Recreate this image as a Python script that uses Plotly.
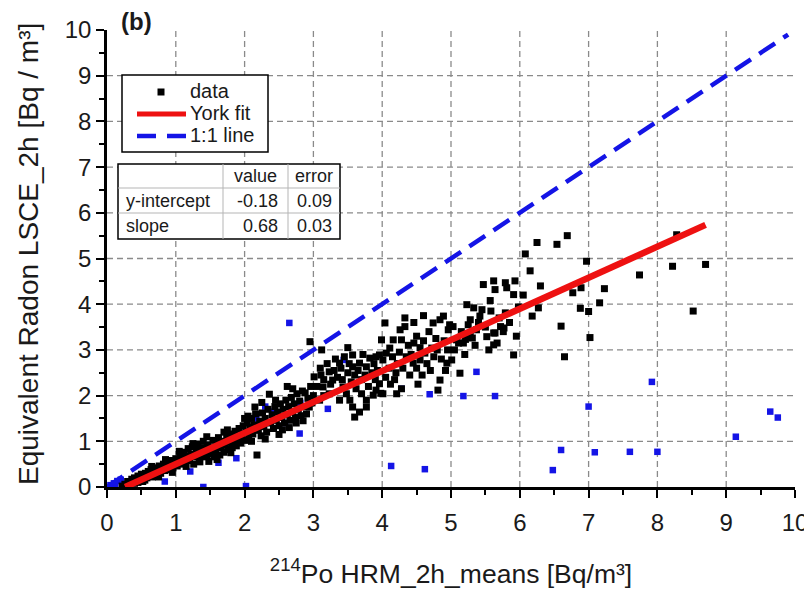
import plotly.graph_objects as go

# ---- data ----
DATA_X = [0.22,0.26,0.3,0.3,0.34,0.36,0.4,0.4,0.43,0.45,0.48,0.5,0.52,0.53,0.56,0.58,0.6,0.62,0.64,0.66,0.68,0.7,0.72,0.74,0.76,0.78,0.8,0.82,0.84,0.86,0.88,0.9,0.92,0.94,0.96,0.98,1.0,
          1.02,1.04,1.06,1.08,1.1,1.12,1.14,1.16,1.18,1.2,1.22,1.24,1.26,1.28,1.3,1.32,1.34,1.36,1.38,1.4,1.42,1.44,1.46,1.48,1.5,1.52,1.54,1.56,1.58,1.6,1.62,1.64,1.66,1.68,1.7,1.72,1.74,1.76,1.78,1.8,1.82,1.84,1.86,1.88,1.9,1.92,1.94,1.96,1.98,2.0,1.45,1.75,2.0,2.05,
          0.45,0.55,0.65,0.75,0.85,0.95,1.05,1.15,1.25,1.35,1.45,1.55,1.65,1.7,1.85,1.95,1.6,1.8,2.1,2.3,2.5,2.15,2.25,2.45,2.55,2.65,2.75,2.85,2.62,2.7,
          2.02,2.04,2.06,2.08,2.1,2.12,2.14,2.16,2.18,2.2,2.22,2.24,2.26,2.28,2.3,2.32,2.34,2.36,2.38,2.4,2.42,2.44,2.46,2.48,2.5,2.52,2.54,2.56,2.58,2.6,2.62,2.64,2.66,2.68,2.7,2.72,2.74,2.76,2.78,2.8,2.82,2.84,2.86,2.88,2.9,2.92,2.94,2.95,2.96,2.98,3.0,
          3.01,3.11,3.23,3.38,3.45,3.57,3.57,3.67,3.77,3.82,3.91,3.96,3.99,3.28,3.43,3.48,3.53,3.57,3.6,3.67,3.77,3.77,3.87,3.91,3.96,3.7,3.38,3.23,3.14,3.09,
          3.05,3.1,3.15,3.2,3.25,3.3,3.32,3.35,3.4,3.42,3.5,3.52,3.55,3.6,3.62,3.65,3.7,3.72,3.75,3.8,3.85,3.88,3.9,3.93,3.98,3.12,3.5,3.15,
          4.01,4.06,4.11,4.16,4.28,4.33,4.33,4.26,4.04,4.01,4.21,4.4,4.45,4.55,4.62,4.72,4.74,4.84,4.89,4.96,4.81,4.84,4.94,
          4.05,4.1,4.12,4.15,4.2,4.22,4.25,4.3,4.35,4.38,4.42,4.46,4.5,4.5,4.55,4.58,4.6,4.65,4.68,4.7,4.75,4.78,4.8,4.86,4.9,4.92,4.95,4.98,4.46,4.6,4.18,4.28,4.52,
          5.03,5.13,5.01,5.08,5.18,5.23,5.33,5.42,5.45,5.28,5.37,5.52,5.62,5.67,5.72,5.76,5.62,5.91,5.47,5.62,5.64,5.79,5.81,5.93,5.91,5.57,5.28,5.79,5.77,5.64,5.21,5.11,5.98,5.31,
          5.05,5.15,5.2,5.25,5.35,5.4,5.5,5.55,5.58,5.7,5.85,5.95,
          6.08,6.25,6.15,6.18,6.27,6.54,6.69,6.97,6.89,6.77,7.23,7.16,6.88,7.0,6.6,7.02,6.65,7.74,8.28,8.22,8.7,8.52,6.3,6.05]
DATA_Y = [0.02,0.06,0.04,0.12,0.1,0.17,0.08,0.2,0.15,0.24,0.18,0.28,0.12,0.22,0.3,0.2,0.34,0.26,0.38,0.22,0.32,0.42,0.28,0.36,0.46,0.3,0.4,0.5,0.36,0.44,0.54,0.38,0.48,0.58,0.42,0.52,0.62,
          0.46,0.56,0.7,0.5,0.62,0.76,0.54,0.68,0.84,0.58,0.72,0.88,0.5,0.66,0.8,0.94,0.6,0.74,0.86,1.0,0.66,0.8,0.92,0.56,0.72,0.86,1.02,0.66,0.8,0.94,1.08,0.7,0.86,1.0,0.76,0.92,1.12,0.82,0.98,1.16,0.86,1.04,1.22,0.9,1.1,1.28,0.96,1.16,1.34,1.02,1.1,1.25,1.5,1.55,
          0.1,0.15,0.45,0.22,0.6,0.32,0.78,0.45,0.95,0.55,0.7,0.78,0.98,1.2,0.95,1.05,0.6,0.75,1.0,1.05,1.15,1.75,1.85,1.9,1.25,1.3,1.4,1.45,2.2,2.15,
          1.2,1.4,1.08,1.3,1.5,1.16,1.36,1.6,0.7,1.24,1.44,1.12,1.62,1.32,1.5,1.2,1.7,2.03,1.4,1.58,1.28,1.76,1.46,1.64,1.34,1.82,1.52,1.7,1.4,1.9,1.58,1.76,1.46,1.96,1.64,1.82,1.52,2.04,1.7,1.88,1.56,2.1,1.76,2.06,1.6,1.94,1.75,3.18,2.2,1.84,2.0,
          2.41,2.45,2.52,2.71,2.85,2.89,2.63,2.71,2.63,2.82,2.85,2.89,3.22,2.34,2.19,2.04,1.9,1.75,1.53,1.64,1.75,1.9,2.01,2.12,2.26,2.04,1.9,2.04,2.19,1.9,
          2.2,2.6,2.35,2.7,2.25,2.55,2.8,2.4,2.6,2.35,2.5,2.7,2.3,2.45,2.15,2.55,2.35,2.9,2.45,2.2,2.5,2.7,2.35,2.55,2.05,3.0,3.05,2.0,
          2.78,2.93,3.04,3.22,3.22,3.51,3.7,3.44,3.59,2.04,2.04,2.45,2.71,2.78,2.93,3.04,3.59,3.66,3.74,3.44,2.12,2.34,2.71,
          2.4,2.6,2.25,2.85,2.5,2.7,2.95,2.6,2.85,3.1,2.9,3.15,2.6,3.3,3.05,2.45,3.2,2.7,3.4,2.55,2.85,3.25,3.0,2.8,3.2,2.55,3.0,3.55,3.6,3.75,2.35,2.15,2.25,
          3.51,2.49,2.78,3.22,3.15,3.99,3.92,3.74,3.88,3.29,3.44,3.29,3.37,3.15,3.51,3.4,3.11,2.89,4.43,4.51,4.32,4.47,4.36,4.51,4.21,4.08,3.66,3.81,3.48,3.37,3.23,3.15,3.94,3.26,
          3.0,3.4,2.9,3.55,3.1,3.6,3.5,3.0,3.85,3.7,3.6,3.3,
          5.1,5.35,4.73,3.74,3.92,5.31,5.5,4.94,4.36,4.25,4.34,4.03,3.91,3.84,3.52,3.27,2.85,4.64,5.52,4.83,4.87,3.85,4.4,4.2]

OUTLIER_X = [0.05,0.1,0.15,0.2,0.12,0.84,1.21,1.4,1.62,1.88,2.02,2.3,2.42,2.17,2.59,2.8,2.81,2.65,3.21,3.44,
             4.28,4.69,5.18,5.37,5.64,4.13,4.62,6.48,6.6,7.0,7.09,7.6,8.0,7.92,9.14,9.64,9.75]
OUTLIER_Y = [0.04,0.08,0.13,0.16,0.02,0.12,0.34,0.0,0.53,0.63,0.02,1.76,1.65,1.5,1.4,1.17,1.84,3.59,1.71,2.78,
             2.15,2.03,1.99,2.52,1.99,0.46,0.39,0.37,0.81,1.76,0.76,0.77,0.77,2.3,1.1,1.65,1.52]

FIT_INTERCEPT = -0.18
FIT_SLOPE = 0.68
FIT_X = [0.265, 8.7]
ONE_X = [0.0, 9.9]

LEGEND_LABELS = ["data", "York fit", "1:1 line"]
TABLE_HEADER = ["", "value", "error"]
TABLE_ROWS = [["y-intercept", "-0.18", "0.09"],
              ["slope", "0.68", "0.03"]]

X_TITLE = "<sup>214</sup>Po HRM_2h_means [Bq/m³]"
Y_TITLE = "Equivalent Radon LSCE_2h [Bq / m³]"
PANEL = "(b)"

TICKS = [0, 1, 2, 3, 4, 5, 6, 7, 8, 9, 10]
GRID = [1, 2, 3, 4, 5, 6, 7, 8, 9]

FONT = "Liberation Sans, Arial, sans-serif"
TXT = "#1a1a1a"
BLUE = "#1414e6"
RED = "#ee1111"

# The page body has an 8px margin, so the figure is drawn 8px right/down.
OFF = 8
W, H = 812, 591
ML, MT = 99, 22
PW, PH = 688, 457
MR, MB = W - ML - PW, H - MT - PH


def px_x(px):
    return (px - OFF - ML) / PW


def px_y(py):
    return (MT + PH + OFF - py) / PH


fig = go.Figure()

# dashed grid (no line at the upper/right range ends)
for g in GRID:
    fig.add_shape(type="line", xref="x", yref="y", x0=g, x1=g, y0=0, y1=10, layer="below",
                  line=dict(color="#8a8a8a", width=1.3, dash="6px,4px"))
    fig.add_shape(type="line", xref="x", yref="y", x0=0, x1=10, y0=g, y1=g, layer="below",
                  line=dict(color="#8a8a8a", width=1.3, dash="6px,4px"))

fig.add_trace(go.Scatter(x=OUTLIER_X, y=OUTLIER_Y, mode="markers", showlegend=False,
                         marker=dict(symbol="square", size=6.5, color=BLUE, line=dict(width=0))))
fig.add_trace(go.Scatter(x=DATA_X, y=DATA_Y, mode="markers", name=LEGEND_LABELS[0], showlegend=False,
                         marker=dict(symbol="square", size=7, color="black", line=dict(width=0))))
fig.add_trace(go.Scatter(x=FIT_X, y=[FIT_INTERCEPT + FIT_SLOPE * v for v in FIT_X], mode="lines",
                         name=LEGEND_LABELS[1], showlegend=False, line=dict(color=RED, width=6.5)))
fig.add_trace(go.Scatter(x=ONE_X, y=ONE_X, mode="lines", name=LEGEND_LABELS[2], showlegend=False,
                         line=dict(color=BLUE, width=4.5, dash="19px,10px")))

axis_common = dict(
    range=[0, 10], tickvals=TICKS, showline=True, linecolor="black", linewidth=2.5,
    ticks="outside", ticklen=8, tickwidth=2, tickcolor="black",
    tickfont=dict(family=FONT, size=24, color=TXT),
    showgrid=False, zeroline=False, mirror=False, automargin=False,
    minor=dict(ticks="outside", ticklen=5, tickwidth=2, tickcolor="black", dtick=0.5, showgrid=False),
)

fig.update_layout(
    width=W, height=H,
    margin=dict(l=ML, r=MR, t=MT, b=MB),
    paper_bgcolor="white", plot_bgcolor="white",
    font=dict(family=FONT, color=TXT),
    xaxis=dict(**axis_common, ticklabelstandoff=4,
               title=dict(text=X_TITLE, font=dict(family=FONT, size=26.5, color=TXT), standoff=30)),
    yaxis=dict(**axis_common, ticklabelstandoff=0),
    showlegend=False,
)

# y-axis title (placed as rotated text, to sit close to the left edge like the reference)
fig.add_annotation(text=Y_TITLE, xref="paper", yref="paper", x=px_x(28), y=px_y(254),
                   xanchor="center", yanchor="middle", textangle=-90, showarrow=False,
                   font=dict(family=FONT, size=28, color=TXT))

# "(b)" panel label
fig.add_annotation(text="<b>" + PANEL + "</b>", xref="paper", yref="paper", x=px_x(119), y=px_y(21),
                   xanchor="left", yanchor="middle", showarrow=False,
                   font=dict(family=FONT, size=24, color=TXT))

# ---- legend box (drawn) ----
fig.add_shape(type="rect", xref="paper", yref="paper", x0=px_x(122), x1=px_x(268), y0=px_y(152), y1=px_y(75),
              fillcolor="white", line=dict(color="black", width=1.5), layer="above")
leg_y = [92, 114, 136]
fig.add_shape(type="rect", xref="paper", yref="paper", x0=px_x(157.5), x1=px_x(164.5),
              y0=px_y(leg_y[0] + 3.5), y1=px_y(leg_y[0] - 3.5), fillcolor="black", line=dict(width=0),
              layer="above")
fig.add_shape(type="line", xref="paper", yref="paper", x0=px_x(137), x1=px_x(186), y0=px_y(leg_y[1]),
              y1=px_y(leg_y[1]), line=dict(color=RED, width=5), layer="above")
fig.add_shape(type="line", xref="paper", yref="paper", x0=px_x(137), x1=px_x(186), y0=px_y(leg_y[2]),
              y1=px_y(leg_y[2]), line=dict(color=BLUE, width=4.5, dash="19px,11px"), layer="above")
for lbl, ly in zip(LEGEND_LABELS, leg_y):
    fig.add_annotation(text=lbl, xref="paper", yref="paper", x=px_x(188), y=px_y(ly - 1),
                       xanchor="left", yanchor="middle", showarrow=False,
                       font=dict(family=FONT, size=20, color=TXT))

# ---- parameter table (drawn) ----
col_px = [118, 223, 288, 340]
row_px = [164, 188, 213, 239]
fig.add_shape(type="rect", xref="paper", yref="paper", x0=px_x(col_px[0]), x1=px_x(col_px[-1]),
              y0=px_y(row_px[-1]), y1=px_y(row_px[0]),
              fillcolor="white", line=dict(color="black", width=1.5), layer="above")
for cx in col_px[1:-1]:
    fig.add_shape(type="line", xref="paper", yref="paper", x0=px_x(cx), x1=px_x(cx),
                  y0=px_y(row_px[-1]), y1=px_y(row_px[0]), line=dict(color="#b5b5b5", width=1), layer="above")
for ry in row_px[1:-1]:
    fig.add_shape(type="line", xref="paper", yref="paper", x0=px_x(col_px[0]), x1=px_x(col_px[-1]),
                  y0=px_y(ry), y1=px_y(ry), line=dict(color="#b5b5b5", width=1), layer="above")

rows = [TABLE_HEADER] + TABLE_ROWS
for r, row in enumerate(rows):
    yc = (row_px[r] + row_px[r + 1]) / 2
    for c, txt in enumerate(row):
        if not txt:
            continue
        if c == 0:
            x, anchor = col_px[0] + 6, "left"
        elif c == 1:
            x, anchor = (col_px[2] - 8, "right") if r > 0 else ((col_px[1] + col_px[2]) / 2, "center")
        else:
            x, anchor = (col_px[2] + col_px[3]) / 2, "center"
        fig.add_annotation(text=txt, xref="paper", yref="paper", x=px_x(x), y=px_y(yc), xanchor=anchor,
                           yanchor="middle", showarrow=False,
                           font=dict(family=FONT, size=18, color=TXT))

fig.write_html("out.html")
